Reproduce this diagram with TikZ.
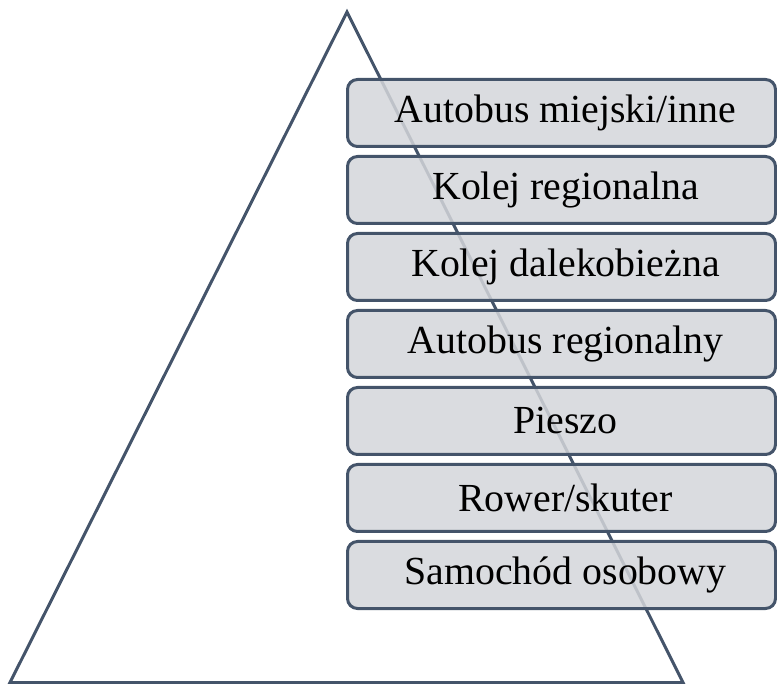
\documentclass[tikz,border=0pt]{standalone}
\usepackage{fontspec}
\setmainfont{Liberation Serif}
\usepackage{tikz}

\definecolor{slate}{RGB}{68,84,106}
\definecolor{boxgray}{RGB}{212,214,218}

\begin{document}
\begin{tikzpicture}[
    x=1pt, y=-1pt,
    modebox/.style={shape=rectangle, rounded corners=10pt, draw=slate, line width=3pt,
        fill=boxgray, fill opacity=0.85, text opacity=1,
        minimum width=428pt, minimum height=67pt, inner sep=0pt,
        font=\fontsize{39.8}{44}\selectfont,
        execute at begin node={\hspace*{8pt}}},
]
\useasboundingbox (0, 0) rectangle (777, 684);

\coordinate (apex) at (347, 12);
\coordinate (bl) at (10, 682.5);
\coordinate (br) at (683, 682.5);
\draw[slate, line width=3pt, line join=miter] (apex) -- (br) -- (bl) -- cycle;

\node[modebox] (bus) at (561.5, 113) {Autobus miejski/inne};
\node[modebox] (regrail) at (561.5, 190) {Kolej regionalna};
\node[modebox] (longrail) at (561.5, 267) {Kolej dalekobieżna};
\node[modebox] (regbus) at (561.5, 344) {Autobus regionalny};
\node[modebox] (walk) at (561.5, 421) {Pieszo};
\node[modebox] (bike) at (561.5, 498) {Rower/skuter};
\node[modebox] (car) at (561.5, 575) {Samochód osobowy};
\end{tikzpicture}
\end{document}
